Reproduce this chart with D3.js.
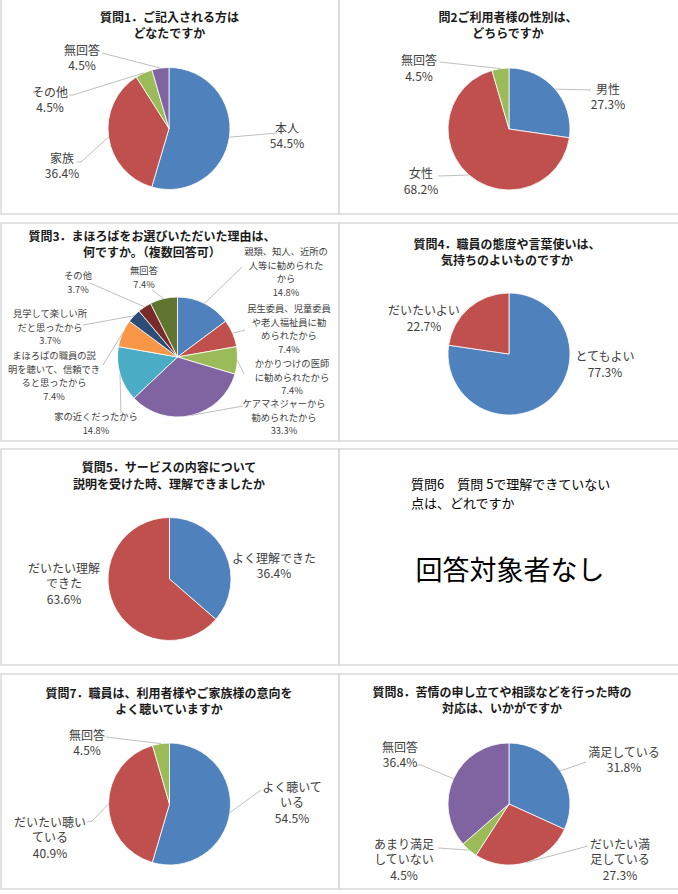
<!DOCTYPE html>
<html>
<head>
<meta charset="utf-8">
<script src="https://cdn.jsdelivr.net/npm/d3@7"></script>
<style>
  body { margin: 0; background: #fff; }
  svg { display: block; font-family: "Noto Sans CJK JP", "Noto Sans", sans-serif; }
</style>
</head>
<body>
<svg id="chart" width="678" height="894"></svg>
<script>
// ---- data ----
const q1Title = ["質問1．ご記入される方は", "どなたですか"];
const q1Categories = ["本人", "家族", "その他", "無回答"];
const q1Values = [54.5, 36.4, 4.5, 4.5];

const q2Title = ["問2ご利用者様の性別は、", "どちらですか"];
const q2Categories = ["男性", "女性", "無回答"];
const q2Values = [27.3, 68.2, 4.5];

const q3Title = ["質問3．まほろばをお選びいただいた理由は、", "何ですか。（複数回答可）"];
const q3Categories = [
  "親類、知人、近所の\n人等に勧められた\nから",
  "民生委員、児童委員\nや老人福祉員に勧\nめられたから",
  "かかりつけの医師\nに勧められたから",
  "ケアマネジャーから\n勧められたから",
  "家の近くだったから",
  "まほろばの職員の説\n明を聴いて、信頼でき\nると思ったから",
  "見学して楽しい所\nだと思ったから",
  "その他",
  "無回答",
];
const q3Values = [14.8, 7.4, 7.4, 33.3, 14.8, 7.4, 3.7, 3.7, 7.4];

const q4Title = ["質問4．職員の態度や言葉使いは、", "気持ちのよいものですか"];
const q4Categories = ["とてもよい", "だいたいよい"];
const q4Values = [77.3, 22.7];

const q5Title = ["質問5．サービスの内容について", "説明を受けた時、理解できましたか"];
const q5Categories = ["よく理解できた", "だいたい理解\nできた"];
const q5Values = [36.4, 63.6];

const q6Title = ["質問6　質問 5で理解できていない", "点は、どれですか"];
const q6Message = "回答対象者なし";

const q7Title = ["質問7．職員は、利用者様やご家族様の意向を", "よく聴いていますか"];
const q7Categories = ["よく聴いて\nいる", "だいたい聴い\nている", "無回答"];
const q7Values = [54.5, 40.9, 4.5];

const q8Title = ["質問8．苦情の申し立てや相談などを行った時の", "対応は、いかがですか"];
const q8Categories = ["満足している", "だいたい満\n足している", "あまり満足\nしていない", "無回答"];
const q8Values = [31.8, 27.3, 4.5, 36.4];

const palette = ["#4F81BD", "#C0504D", "#9BBB59", "#8064A2", "#4BACC6",
  "#F79646", "#2C4D75", "#772C2A", "#5F7530"];

// ---- layout ----
const svg = d3.select("#chart");

// panel frames (left/right columns, four rows)
const rows = [[-1, 214], [223, 441], [449, 665], [674, 889]];
const cols = [[1, 339], [339, 681]];
rows.forEach(([y0, y1]) => {
  cols.forEach(([x0, x1]) => {
    svg.append("rect")
      .attr("x", x0).attr("y", y0)
      .attr("width", x1 - x0).attr("height", y1 - y0)
      .attr("fill", "none")
      .attr("stroke", "#d9d9d9")
      .attr("stroke-width", 1.5);
  });
});

const pies = [
  { title: q1Title, tx: 169.5, ty: [16, 32.3], cats: q1Categories, vals: q1Values,
    cx: 169, cy: 128.5, r: 61, fs: 12, lh: 15.8,
    labels: [[287, 127], [62, 157], [50, 91], [82, 49]],
    leaders: [[[277, 133]], [[81, 162], [77, 162]], [[73, 95], [69, 95]], [[102, 53]]] },
  { title: q2Title, tx: 508, ty: [16.3, 32.3], cats: q2Categories, vals: q2Values,
    cx: 509, cy: 129, r: 61, fs: 12, lh: 15.6,
    labels: [[608, 88], [421, 172.5], [419, 59.5]],
    leaders: [[[591, 90]], [[438, 176]], [[440, 62]]] },
  { title: q3Title, tx: 152, ty: [235.5, 251.5], cats: q3Categories, vals: q3Values,
    cx: 177.5, cy: 357, r: 60, fs: 9.3, lh: 13.6,
    labels: [[286, 251], [289, 308], [292, 363], [284, 403], [96, 416],
      [54, 355], [50, 313], [78, 275], [144, 270]],
    leaders: [[[242, 267]], [[245, 330]], [[244, 374]], [[243, 406]], [[121, 413]],
      [[103, 365]], [[83, 325]], [[90, 283]], [[152, 290]]] },
  { title: q4Title, tx: 507, ty: [243, 259.7], cats: q4Categories, vals: q4Values,
    cx: 509, cy: 354, r: 61, fs: 12, lh: 16,
    labels: [[605, 355], [424, 309]],
    leaders: [null, null] },
  { title: q5Title, tx: 169, ty: [466.7, 483.3], cats: q5Categories, vals: q5Values,
    cx: 169.5, cy: 579, r: 61.5, fs: 12, lh: 15.6,
    labels: [[274, 557], [64, 567]],
    leaders: [null, null] },
  { title: q7Title, tx: 169, ty: [692.8, 708.8], cats: q7Categories, vals: q7Values,
    cx: 169.5, cy: 804, r: 61, fs: 12, lh: 15.8,
    labels: [[292, 786], [50, 821], [87, 734]],
    leaders: [[[261, 790]], [[92, 821], [87, 822]], [[106, 737]]] },
  { title: q8Title, tx: 502, ty: [691.3, 707.3], cats: q8Categories, vals: q8Values,
    cx: 509, cy: 804, r: 61, fs: 12, lh: 15.8,
    labels: [[624, 751], [620, 843], [404, 843], [400, 746]],
    leaders: [[[586, 762]], [[588, 846]], [[438, 848]], [[421, 765], [416, 765]]] },
];

const pie = d3.pie().sort(null).value((d) => d);

pies.forEach((p) => {
  // title
  p.title.forEach((t, i) => {
    svg.append("text")
      .attr("x", p.tx).attr("y", p.ty[i])
      .attr("text-anchor", "middle")
      .attr("dominant-baseline", "central")
      .attr("font-size", 12)
      .attr("font-weight", "bold")
      .attr("fill", "#1a1a1a")
      .text(t);
  });

  const arcs = pie(p.vals);
  const arc = d3.arc().innerRadius(0).outerRadius(p.r);
  const g = svg.append("g").attr("transform", `translate(${p.cx},${p.cy})`);

  g.selectAll("path")
    .data(arcs)
    .join("path")
    .attr("d", arc)
    .attr("fill", (d, i) => palette[i])
    .attr("stroke", "#fff")
    .attr("stroke-width", 0.8);

  // leader lines from the middle of each slice's rim
  arcs.forEach((a, i) => {
    if (!p.leaders[i]) return;
    const mid = (a.startAngle + a.endAngle) / 2;
    const start = [p.cx + p.r * Math.sin(mid), p.cy - p.r * Math.cos(mid)];
    svg.append("path")
      .attr("d", d3.line()([start, ...p.leaders[i]]))
      .attr("fill", "none")
      .attr("stroke", "#bfbfbf")
      .attr("stroke-width", 1);
  });

  // data labels
  arcs.forEach((a, i) => {
    const lines = p.cats[i].split("\n").concat([`${p.vals[i].toFixed(1)}%`]);
    const [lx, ly] = p.labels[i];
    const t = svg.append("text")
      .attr("text-anchor", "middle")
      .attr("font-size", p.fs)
      .attr("fill", "#404040");
    lines.forEach((s, j) => {
      t.append("tspan")
        .attr("x", lx)
        .attr("y", ly + j * p.lh)
        .attr("dominant-baseline", "central")
        .text(s);
    });
  });
});

// question 6: no chart, only a message
q6Title.forEach((t, i) => {
  svg.append("text")
    .attr("x", 411).attr("y", [483, 502][i])
    .attr("dominant-baseline", "central")
    .attr("font-size", 13)
    .attr("fill", "#000")
    .text(t);
});
svg.append("text")
  .attr("x", 510).attr("y", 568)
  .attr("text-anchor", "middle")
  .attr("dominant-baseline", "central")
  .attr("font-size", 27)
  .attr("fill", "#000")
  .text(q6Message);
</script>
</body>
</html>
